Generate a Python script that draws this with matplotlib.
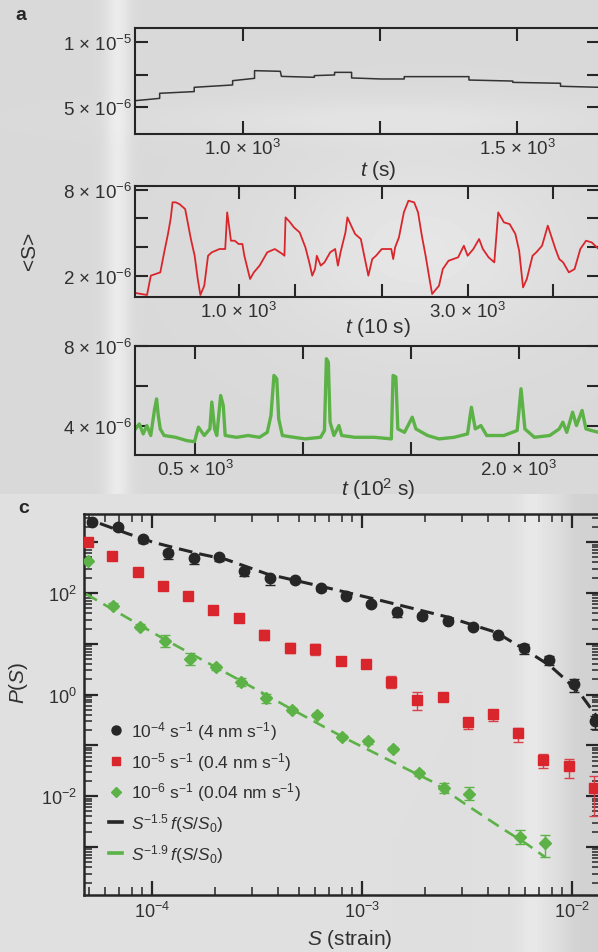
import numpy as np
import matplotlib
matplotlib.use('Agg')
import matplotlib.pyplot as plt
from matplotlib.ticker import FixedLocator, FixedFormatter, LogLocator, FuncFormatter, NullFormatter
from matplotlib.lines import Line2D

plt.rcParams['font.family'] = ['Liberation Sans', 'DejaVu Sans']
plt.rcParams['mathtext.fontset'] = 'custom'
plt.rcParams['mathtext.rm'] = 'Liberation Sans'
plt.rcParams['mathtext.it'] = 'Liberation Sans:italic'
plt.rcParams['mathtext.bf'] = 'Liberation Sans:bold'

# ---------------- data: panel a (time series, <S> in units of 1e-6) ----------------
t_a1 = [803, 848, 848, 911, 911, 981, 981, 1021, 1021, 1068, 1070, 1130, 1130, 1167, 1167, 1198, 1198,
        1252, 1294, 1294, 1412, 1412, 1492, 1492, 1579, 1579, 1651]
s_a1 = [5.51, 5.69, 6.08, 6.21, 6.54, 6.72, 7.05, 7.23, 7.82, 7.77, 7.38, 7.31, 7.44, 7.49, 7.69, 7.69, 7.26,
        7.18, 7.18, 7.36, 7.36, 7.10, 7.02, 6.92, 6.85, 6.62, 6.54]

t_a2 = [97, 197, 230, 313, 347, 380, 403, 420, 447, 480, 530, 547, 580, 613, 640, 663, 697, 730, 763, 830,
        880, 897, 913, 930, 963, 997, 1030, 1047, 1097, 1130, 1180, 1247, 1313, 1380, 1397, 1407, 1447, 1480,
        1530, 1580, 1614, 1640, 1664, 1680, 1714, 1747, 1797, 1840, 1864, 1887, 1930, 1947, 1980, 2014, 2064,
        2097, 2130, 2164, 2197, 2247, 2330, 2347, 2364, 2397, 2440, 2480, 2530, 2564, 2597, 2630, 2664, 2687,
        2747, 2780, 2830, 2914, 2964, 2997, 3047, 3097, 3130, 3180, 3230, 3264, 3314, 3364, 3414, 3447, 3481,
        3514, 3564, 3597, 3647, 3697, 3731, 3764, 3797, 3831, 3881, 3931, 3981, 4031, 4081, 4141]
s_a2 = [0.79, 0.65, 2.00, 2.23, 3.63, 4.91, 5.95, 7.12, 7.12, 7.00, 6.65, 5.95, 4.56, 3.39, 1.77, 0.65, 1.30,
        3.39, 3.63, 3.86, 3.86, 6.42, 5.49, 4.44, 4.44, 4.21, 4.21, 3.39, 1.77, 2.23, 2.70, 3.63, 3.86, 3.51,
        3.39, 6.07, 5.72, 5.37, 5.02, 3.98, 2.93, 2.00, 2.46, 3.39, 2.70, 2.93, 3.63, 3.86, 2.70, 3.63, 5.02,
        6.07, 5.49, 4.91, 4.56, 3.28, 2.00, 3.16, 3.39, 3.86, 3.86, 3.16, 3.98, 4.67, 6.42, 7.23, 7.12, 6.42,
        4.79, 3.39, 1.77, 0.72, 1.30, 2.46, 3.04, 3.28, 4.09, 3.39, 3.86, 4.56, 3.86, 3.28, 2.93, 6.42, 5.72,
        5.60, 4.91, 3.74, 1.18, 1.77, 3.39, 3.63, 4.09, 5.49, 4.67, 3.86, 3.16, 2.93, 2.23, 2.46, 3.86, 4.44,
        4.32, 3.86]

t_a3 = [222, 240, 258, 275, 293, 311, 320, 328, 337, 355, 408, 461, 496, 514, 541, 567, 576, 589, 599, 617,
        629, 638, 691, 744, 797, 833, 850, 864, 877, 886, 903, 956, 1009, 1080, 1098, 1107, 1116, 1124, 1142,
        1165, 1178, 1239, 1328, 1408, 1416, 1429, 1438, 1469, 1505, 1522, 1576, 1629, 1699, 1761, 1779, 1797,
        1823, 1850, 1929, 1991, 2009, 2027, 2071, 2142, 2186, 2203, 2221, 2248, 2266, 2292, 2310, 2336, 2368]
s_a3 = [3.83, 4.08, 3.58, 4.00, 3.50, 4.84, 5.34, 4.50, 3.83, 3.50, 3.41, 3.24, 3.19, 3.92, 3.50, 3.83, 5.18,
        3.83, 3.50, 5.51, 5.01, 3.50, 3.41, 3.50, 3.41, 3.66, 4.50, 6.52, 6.35, 4.34, 3.50, 3.41, 3.33, 3.41,
        3.75, 7.36, 7.19, 4.17, 3.50, 4.00, 3.50, 3.41, 3.41, 3.33, 6.52, 6.44, 3.83, 3.66, 4.42, 3.83, 3.50,
        3.33, 3.41, 3.58, 4.92, 3.83, 4.00, 3.50, 3.50, 3.75, 5.85, 3.83, 3.41, 3.50, 3.83, 4.17, 3.66, 4.67,
        4.00, 4.76, 3.83, 3.75, 3.66]

# tick positions / labels of panel a
a1_xticks = [1000, 1250, 1500]
a1_xlabels = [r'1.0 × 10$^{3}$', '', r'1.5 × 10$^{3}$']
a1_yticks = [5.0, 7.5, 10.0]
a1_ylabels = [r'5 × 10$^{-6}$', '', r'1 × 10$^{-5}$']
a2_xticks = [1000, 1490, 2250, 3000, 3740]
a2_xlabels = [r'1.0 × 10$^{3}$', '', '', r'3.0 × 10$^{3}$', '']
a2_yticks = [2, 4, 6, 8]
a2_ylabels = [r'2 × 10$^{-6}$', '', '', r'8 × 10$^{-6}$']
a3_xticks = [500, 1000, 1500, 2000]
a3_xlabels = [r'0.5 × 10$^{3}$', '', '', r'2.0 × 10$^{3}$']
a3_yticks = [4, 6, 8]
a3_ylabels = [r'4 × 10$^{-6}$', '', r'8 × 10$^{-6}$']

# ---------------- data: panel c (size distributions) ----------------
S_b = [5.16e-5, 6.91e-5, 9.07e-5, 1.19e-4, 1.58e-4, 2.08e-4, 2.75e-4, 3.65e-4, 4.80e-4, 6.35e-4, 8.41e-4,
       1.109e-3, 1.468e-3, 1.926e-3, 2.56e-3, 3.39e-3, 4.45e-3, 5.91e-3, 7.76e-3, 1.027e-2, 1.29e-2]
P_b = [2535, 1964, 1156, 613, 482, 505, 275, 200, 180, 124, 88.5, 60.7, 41.7, 34.8, 28.5, 21.7, 14.9, 8.26,
       4.80, 1.62, 0.306]
eb_lo = [0.1, 0.1, 0.15, 0.25, 0.22, 0.15, 0.22, 0.28, 0.1, 0.1, 0.1, 0.1, 0.2, 0.1, 0.1, 0.1, 0.15, 0.25,
         0.2, 0.3, 0.3]
eb_hi = [0.1, 0.1, 0.1, 0.15, 0.1, 0.1, 0.1, 0.1, 0.1, 0.1, 0.1, 0.1, 0.1, 0.1, 0.1, 0.1, 0.1, 0.2, 0.2,
         0.25, 0.25]

S_r = [4.94e-5, 6.43e-5, 8.55e-5, 1.125e-4, 1.479e-4, 1.959e-4, 2.595e-4, 3.43e-4, 4.54e-4, 5.97e-4, 7.93e-4,
       1.05e-3, 1.377e-3, 1.832e-3, 2.42e-3, 3.20e-3, 4.22e-3, 5.55e-3, 7.25e-3, 9.70e-3, 1.276e-2]
P_r = [1023, 542, 255, 139, 86.1, 46.3, 31.8, 14.9, 8.26, 8.01, 4.65, 4.00, 1.79, 0.794, 0.910, 0.295, 0.406,
       0.173, 0.0516, 0.0388, 0.0145]
er_lo = [0, 0, 0, 0, 0, 0, 0, 0.2, 0.2, 0.24, 0.1, 0.1, 0.24, 0.365, 0.17, 0.3, 0.27, 0.33, 0.30, 0.42, 0.72]
er_hi = [0, 0, 0, 0, 0, 0, 0, 0.25, 0.25, 0.25, 0.1, 0.1, 0.31, 0.44, 0.2, 0.12, 0.25, 0.25, 0.31, 0.37, 0.72]

S_g = [4.94e-5, 6.49e-5, 8.77e-5, 1.148e-4, 1.513e-4, 2.01e-4, 2.64e-4, 3.49e-4, 4.64e-4, 6.10e-4, 8.07e-4,
       1.064e-3, 1.407e-3, 1.858e-3, 2.45e-3, 3.24e-3, 5.65e-3, 7.44e-3]
P_g = [427, 56.7, 21.9, 11.5, 5.02, 3.45, 1.75, 0.845, 0.505, 0.400, 0.148, 0.120, 0.0849, 0.0280, 0.0143,
       0.0109, 1.55e-3, 1.19e-3]
eg_lo = [0, 0.1, 0.1, 0.24, 0.24, 0.1, 0.17, 0.18, 0.1, 0.1, 0.1, 0.1, 0.1, 0.1, 0.2, 0.24, 0.27, 0.47]
eg_hi = [0, 0.1, 0.1, 0.31, 0.31, 0.1, 0.20, 0.22, 0.1, 0.1, 0.1, 0.1, 0.1, 0.1, 0.25, 0.37, 0.37, 0.44]

S_fit15 = [5.65e-5, 7.58e-5, 1.014e-4, 1.311e-4, 1.693e-4, 2.268e-4, 3.53e-4, 6.35e-4, 1.241e-3, 2.58e-3,
           4.35e-3, 6.08e-3, 7.85e-3, 9.44e-3, 1.112e-2, 1.36e-2]
P_fit15 = [2335, 1497, 995, 759, 586, 453, 237, 136, 70.5, 33.3, 16.8, 7.32, 3.71, 1.88, 0.950, 0.302]
S_fit19 = [4.85e-5, 1.141e-4, 2.64e-4, 4.54e-4, 8.16e-4, 1.633e-3, 2.18e-3, 3.15e-3, 4.69e-3, 6.08e-3, 7.43e-3]
P_fit19 = [95.6, 12.4, 1.88, 0.537, 0.144, 0.0343, 0.0190, 6.71e-3, 2.26e-3, 1.15e-3, 6.35e-4]

legend_labels = [r'10$^{-4}$ s$^{-1}$ (4 nm s$^{-1}$)',
                 r'10$^{-5}$ s$^{-1}$ (0.4 nm s$^{-1}$)',
                 r'10$^{-6}$ s$^{-1}$ (0.04 nm s$^{-1}$)',
                 r'$S^{-1.5}\,f(S/S_0)$',
                 r'$S^{-1.9}\,f(S/S_0)$']

# ---------------- styling ----------------
W, H = 598, 953
C_BLACK = '#262626'
C_RED = '#d9262c'
C_RED_E = '#d9404a'
C_GREEN = '#5cb247'
C_TXT = '#303030'
FS = 13.5        # tick labels panel a
FS_C = 13        # tick labels panel c
FS_LEG = 12.5
FS_LAB = 15

fig = plt.figure(figsize=(W / 100, H / 100), dpi=100)

# photographic grey background
yy, xx = np.mgrid[0:H, 0:W].astype(float)
bg = np.full((H, W), 0.85)
top = (yy < 495).astype(float)
bg += top * 0.07 * np.exp(-((xx - 117) / 12.0) ** 2)
bg += 0.05 * np.exp(-((xx - 420) / 150.0) ** 2 - ((yy - 250) / 100.0) ** 2)
bg += 0.035 * np.exp(-((xx - 380) / 220.0) ** 2 - ((yy - 120) / 20.0) ** 2)
bot = 1 - top
bg += bot * (0.025 + 0.035 * np.exp(-((xx - 532) / 14.0) ** 2) - 0.055 / (1 + np.exp(-(xx - 566) / 5.0)))
axbg = fig.add_axes([0, 0, 1, 1], zorder=-10)
axbg.imshow(np.clip(bg, 0, 1), cmap='gray', vmin=0, vmax=1, extent=[0, W, H, 0], aspect='auto',
            interpolation='bilinear')
axbg.axis('off')


def rect(l, t, r, b):
    return [l / W, 1 - b / H, (r - l) / W, (b - t) / H]


def style(ax, lw=1.5, fs=FS):
    ax.set_facecolor('none')
    for s in ax.spines.values():
        s.set_linewidth(lw)
        s.set_color(C_BLACK)
    ax.tick_params(which='both', direction='in', top=True, right=True, colors=C_BLACK,
                   labelcolor=C_TXT, labelsize=fs)
    ax.tick_params(which='major', length=9.5, width=1.5)
    ax.tick_params(which='minor', length=5, width=1.0)


def set_fixed(ax, xt, xl, yt, yl):
    ax.xaxis.set_major_locator(FixedLocator(xt))
    ax.xaxis.set_major_formatter(FixedFormatter(xl))
    ax.yaxis.set_major_locator(FixedLocator(yt))
    ax.yaxis.set_major_formatter(FixedFormatter(yl))
    ax.tick_params(axis='x', pad=3)
    ax.tick_params(axis='y', pad=2)


# panel a1
ax1 = fig.add_axes(rect(135, 29, 600, 135))
style(ax1)
ax1.plot(t_a1, s_a1, color='#333333', lw=1.1)
ax1.set_xlim(803, 1651)
ax1.set_ylim(2.95, 11.1)
set_fixed(ax1, a1_xticks, a1_xlabels, a1_yticks, a1_ylabels)

# panel a2
ax2 = fig.add_axes(rect(135, 187, 600, 298))
style(ax2)
ax2.plot(t_a2, s_a2, color=C_RED, lw=1.3)
ax2.set_xlim(92, 4153)
ax2.set_ylim(0.51, 8.26)
set_fixed(ax2, a2_xticks, a2_xlabels, a2_yticks, a2_ylabels)

# panel a3
ax3 = fig.add_axes(rect(135, 347, 600, 456))
style(ax3)
ax3.plot(t_a3, s_a3, color=C_GREEN, lw=2.4)
ax3.set_xlim(220, 2375)
ax3.set_ylim(2.52, 8.0)
set_fixed(ax3, a3_xticks, a3_xlabels, a3_yticks, a3_ylabels)

fig.text(15 / W, 1 - 16 / H, 'a', fontsize=14, fontweight='bold', color=C_BLACK, ha='left', va='center')
fig.text(378 / W, 1 - 171 / H, r'$t$ (s)', fontsize=FS_LAB, color=C_TXT, ha='center', va='center')
fig.text(378 / W, 1 - 328 / H, r'$t$ (10 s)', fontsize=FS_LAB, color=C_TXT, ha='center', va='center')
fig.text(378 / W, 1 - 489 / H, r'$t$ (10$^{2}$ s)', fontsize=FS_LAB, color=C_TXT, ha='center', va='center')
fig.text(29 / W, 1 - 251 / H, '<S>', fontsize=FS_LAB, color=C_TXT, ha='center', va='center', rotation=90)

# panel c
axc = fig.add_axes(rect(84, 515, 600, 896))
style(axc, lw=1.8, fs=FS_C)
axc.set_xscale('log')
axc.set_yscale('log')
axc.set_xlim(4.745e-5, 1.359e-2)
axc.set_ylim(1.135e-4, 3590)
axc.xaxis.set_major_locator(LogLocator(base=10, numticks=20))
axc.xaxis.set_minor_locator(LogLocator(base=10, subs=np.arange(2, 10), numticks=20))
axc.yaxis.set_major_locator(LogLocator(base=10, numticks=20))
axc.yaxis.set_minor_locator(LogLocator(base=10, subs=np.arange(2, 10), numticks=20))
axc.xaxis.set_minor_formatter(NullFormatter())
axc.yaxis.set_minor_formatter(NullFormatter())


def fmt_x(v, pos):
    e = int(round(np.log10(v)))
    return r'10$^{%d}$' % e


def fmt_y(v, pos):
    e = int(round(np.log10(v)))
    return r'10$^{%d}$' % e if e % 2 == 0 else ''


axc.xaxis.set_major_formatter(FuncFormatter(fmt_x))
axc.yaxis.set_major_formatter(FuncFormatter(fmt_y))
axc.tick_params(which='major', length=10, width=1.6)
axc.tick_params(which='minor', length=5.5, width=1.1)
axc.tick_params(axis='x', pad=4)
axc.tick_params(axis='y', pad=5)

axc.plot(S_fit15, P_fit15, color=C_BLACK, lw=2.2, dashes=(4.5, 2.3), zorder=2)
axc.plot(S_fit19, P_fit19, color=C_GREEN, lw=1.9, dashes=(4.8, 2.8), zorder=2)

Pb = np.array(P_b); Pr = np.array(P_r); Pg = np.array(P_g)
axc.errorbar(S_b, Pb, yerr=[Pb * np.array(eb_lo), Pb * np.array(eb_hi)], fmt='none', ecolor=C_BLACK,
             elinewidth=1.0, capsize=3.5, capthick=1.0, zorder=3)
axc.errorbar(S_r, Pr, yerr=[Pr * np.array(er_lo), Pr * np.array(er_hi)], fmt='none', ecolor=C_RED_E,
             elinewidth=1.0, capsize=3.5, capthick=1.0, zorder=3)
axc.errorbar(S_g, Pg, yerr=[Pg * np.array(eg_lo), Pg * np.array(eg_hi)], fmt='none', ecolor=C_GREEN,
             elinewidth=1.0, capsize=3.5, capthick=1.0, zorder=3)
axc.plot(S_b, P_b, 'o', color=C_BLACK, ms=7.5, mec=C_BLACK, zorder=4)
axc.plot(S_r, P_r, 's', color=C_RED, ms=7.0, mec=C_RED, zorder=4)
axc.plot(S_g, P_g, 'D', color=C_GREEN, ms=5.8, mec=C_GREEN, zorder=4)

handles = [Line2D([], [], ls='none', marker='o', color=C_BLACK, ms=6.5),
           Line2D([], [], ls='none', marker='s', color=C_RED, ms=5.5),
           Line2D([], [], ls='none', marker='D', color=C_GREEN, ms=4.8),
           Line2D([], [], color=C_BLACK, lw=2.6),
           Line2D([], [], color=C_GREEN, lw=2.6)]
leg = axc.legend(handles, legend_labels, loc='upper left', bbox_to_anchor=(109 / W, 1 - 720 / H),
                 bbox_transform=fig.transFigure, frameon=False, fontsize=FS_LEG, handlelength=0.75,
                 handletextpad=0.5, labelspacing=0.45, borderpad=0, borderaxespad=0)
for txt in leg.get_texts():
    txt.set_color(C_TXT)

fig.text(24 / W, 1 - 509 / H, 'c', fontsize=14, fontweight='bold', color=C_BLACK, ha='center', va='center')
fig.text(350 / W, 1 - 940 / H, r'$S$ (strain)', fontsize=FS_LAB, color=C_TXT, ha='center', va='center')
fig.text(19 / W, 1 - 683 / H, r'$P(S)$', fontsize=FS_LAB, color=C_TXT, ha='center', va='center', rotation=90)

fig.savefig('out.png', dpi=100)
